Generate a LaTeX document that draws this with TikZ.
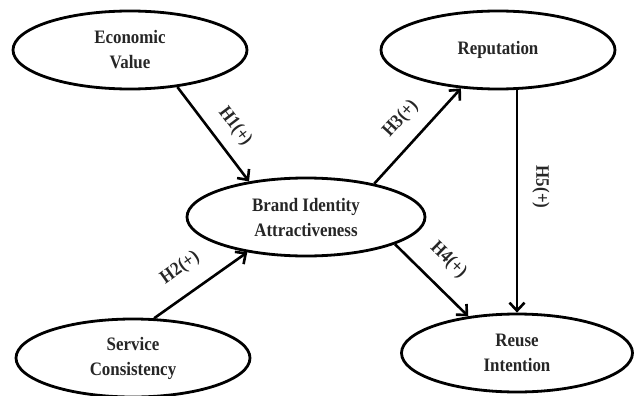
\documentclass[tikz,border=0pt]{standalone}
\usepackage{fontspec}
\setmainfont{Liberation Serif}
\newfontfamily\diagfont{Liberation Serif}[FakeStretch=0.89]
\usetikzlibrary{shapes.geometric,arrows.meta}
\begin{document}
\begin{tikzpicture}[x=1pt,y=-1pt,
  var/.style={draw, ellipse, line width=2.8pt, minimum width=234pt, minimum height=78pt,
    inner sep=0pt, align=center, text=black!85,
    font=\diagfont\bfseries\fontsize{19}{25}\selectfont},
  link/.style={line width=2.6pt, -{Straight Barb[length=8pt,width=15pt]}},
  hyp/.style={sloped, inner sep=0pt, text=black!85,
    font=\diagfont\bfseries\fontsize{19}{20}\selectfont}]
\useasboundingbox (0,0) rectangle (637,396);
\node[var] (ev) at (130,50) {Economic\\Value};
\node[var] (rep) at (498,50) {Reputation};
\node[var, minimum width=238pt] (bi) at (306,217) {Brand Identity\\Attractiveness};
\node[var] (sc) at (133,358) {Service\\Consistency};
\node[var, minimum width=231pt] (ri) at (517,353) {Reuse\\Intention};
\draw[link] (ev.-38) -- (bi.148) node[hyp, pos=0.56, above=12pt] {H1(+)};
\draw[link] (sc.62) -- (bi.211) node[hyp, pos=0.44, above=16pt] {H2(+)};
\draw[link] (bi.26) -- (rep.226) node[hyp, pos=0.51, above=14pt] {H3(+)};
\draw[link] (bi.-17) -- (ri.143) node[hyp, pos=0.48, above=16pt] {H4(+)};
\draw[link] (rep.south -| ri.north) -- (ri.north)
  node[pos=0.435, xshift=24pt, rotate=-90, inner sep=0pt, text=black!85,
    font=\diagfont\bfseries\fontsize{19}{20}\selectfont] {H5(+)};
\end{tikzpicture}
\end{document}
